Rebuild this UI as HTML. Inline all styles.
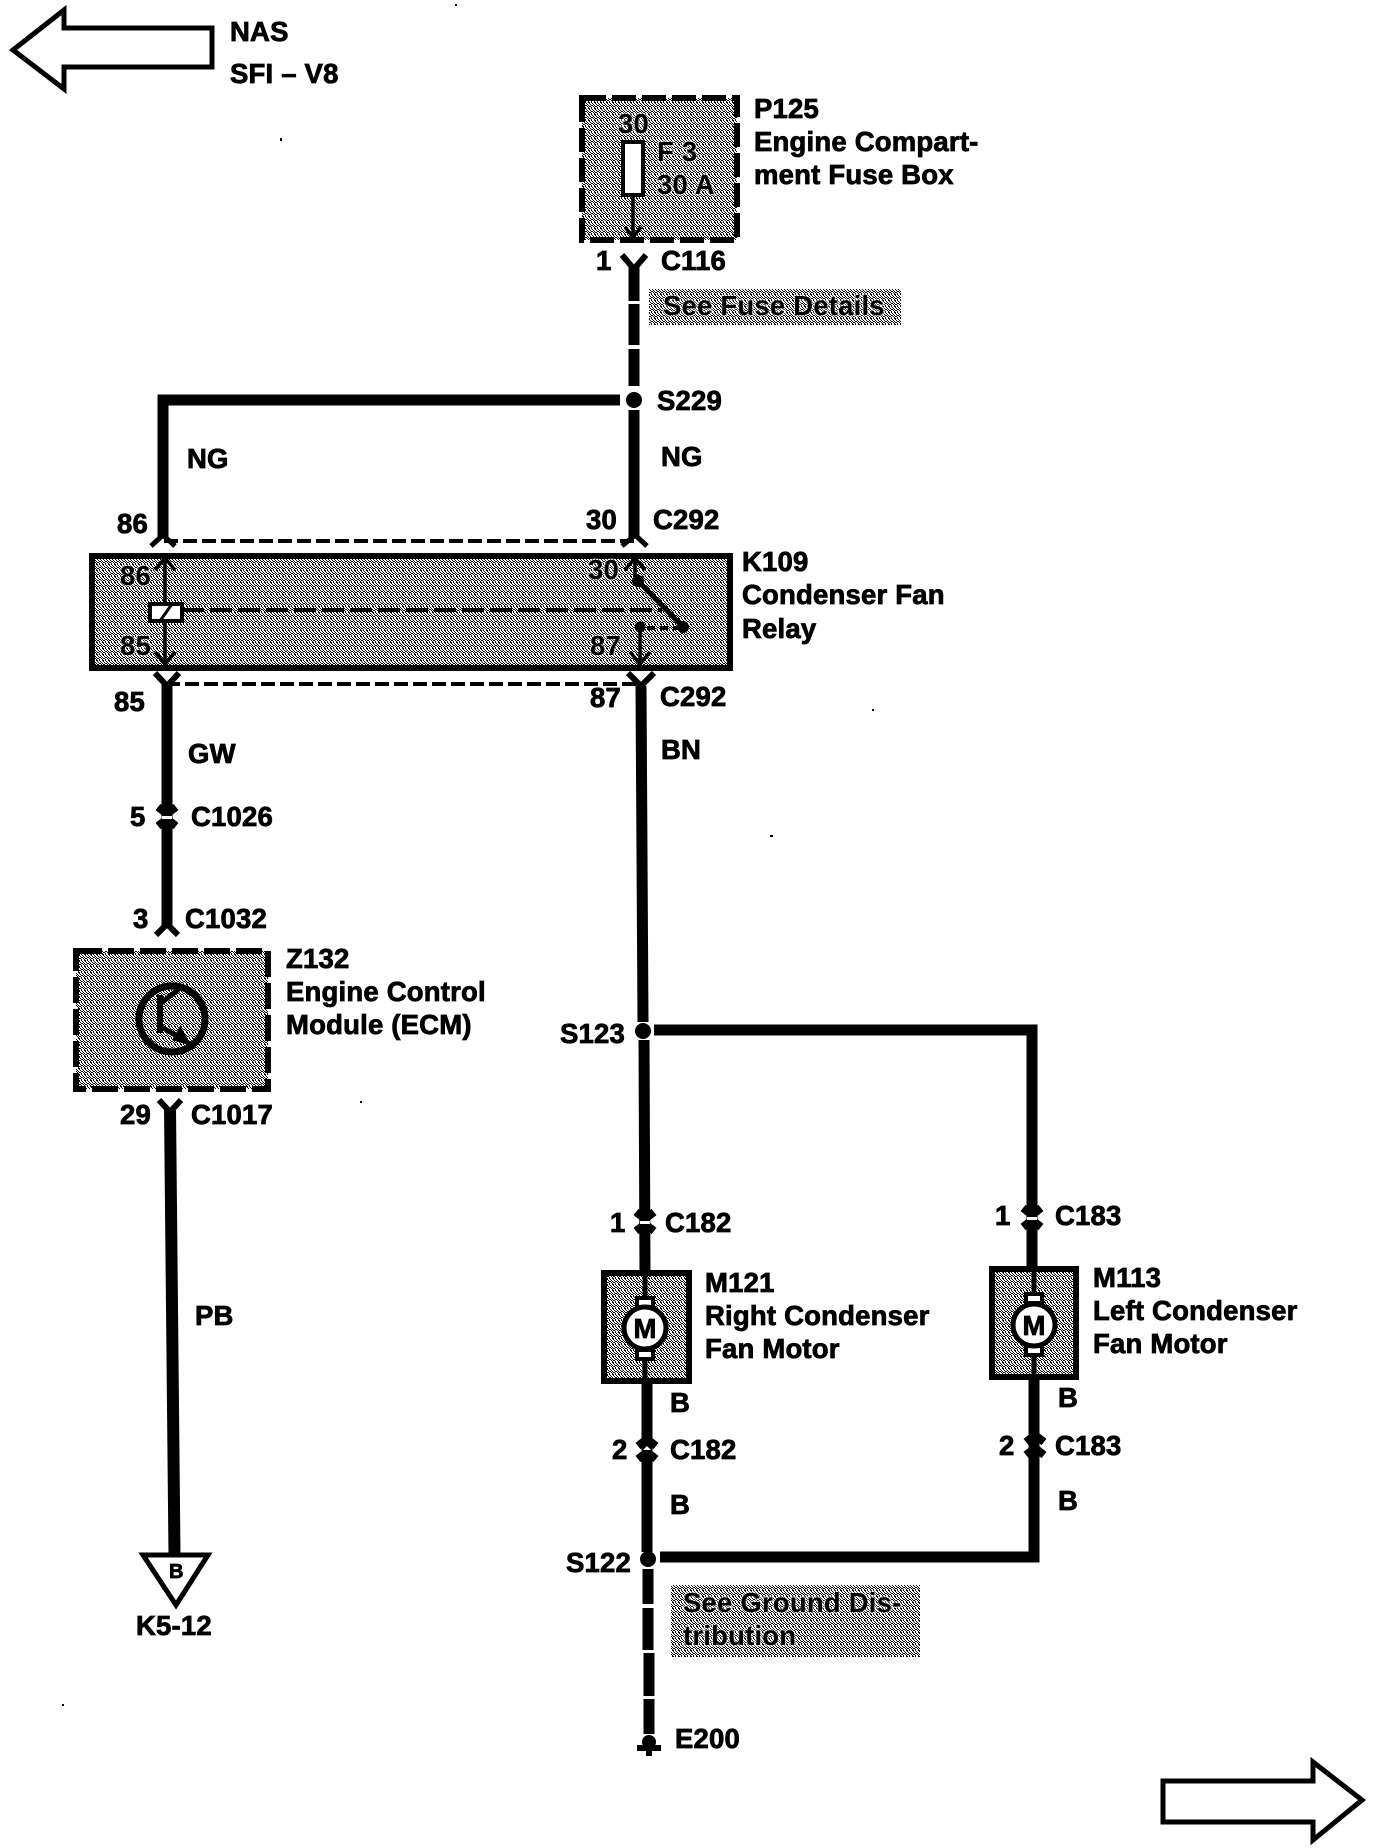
<!DOCTYPE html>
<html><head><meta charset="utf-8"><style>
html,body{margin:0;padding:0;background:#fff}
svg{display:block}
text{font-family:"Liberation Sans",Arial,sans-serif;font-weight:700;font-size:27.5px;letter-spacing:.2px;fill:#000;stroke:#000;stroke-width:.8px}
text.h{stroke:#fff;stroke-opacity:.4;stroke-width:3px;paint-order:stroke}
</style></head><body>
<svg width="1376" height="1848" viewBox="0 0 1376 1848" xmlns="http://www.w3.org/2000/svg">
<defs>
<pattern id="st" width="6" height="6" patternUnits="userSpaceOnUse">
<rect width="6" height="6" fill="#fff"/>
<rect x="0" y="0" width="2" height="1" fill="#000"/><rect x="3" y="0" width="1" height="1" fill="#000"/>
<rect x="1" y="1" width="1" height="1" fill="#000"/><rect x="4" y="1" width="1" height="1" fill="#000"/>
<rect x="2" y="2" width="1" height="1" fill="#000"/><rect x="5" y="2" width="1" height="1" fill="#000"/>
<rect x="0" y="3" width="1" height="1" fill="#000"/><rect x="3" y="3" width="2" height="1" fill="#000"/>
<rect x="1" y="4" width="2" height="1" fill="#000"/><rect x="5" y="4" width="1" height="1" fill="#000"/>
<rect x="0" y="5" width="1" height="1" fill="#000"/><rect x="3" y="5" width="1" height="1" fill="#000"/>
</pattern>
<g id="c1"><path d="M-9 -10L0 -3L9 -10M-9 9L0 2L9 9" fill="none" stroke="#000" stroke-width="8"/><rect x="-5" y="-1" width="10" height="3" fill="#fff"/></g>
<g id="c2"><path d="M-9 -3L0 -10L9 -3M-9 10L0 3L9 10" fill="none" stroke="#000" stroke-width="8"/><polygon points="-4,1 0,-3 4,1" fill="#fff"/></g>
</defs>

<!-- off-page arrows -->
<polygon points="13,50 64,10 64,28 212,28 212,67 64,67 64,89" fill="#fff" stroke="#000" stroke-width="5"/>
<polygon points="1163,1781 1313,1781 1313,1762 1362,1800 1313,1840 1313,1822 1163,1822" fill="#fff" stroke="#000" stroke-width="5"/>
<text x="230" y="41">NAS</text>
<text x="230" y="83">SFI – V8</text>

<!-- fuse box -->
<rect x="582" y="98" width="155" height="142" fill="url(#st)" stroke="#000" stroke-width="6" stroke-dasharray="24 6"/>
<text class="h" x="618" y="133">30</text>
<rect x="623" y="142" width="20" height="53" fill="#fff" stroke="#000" stroke-width="4"/>
<path d="M633 195V236M625 227L633 237L641 227" fill="none" stroke="#000" stroke-width="3.500"/>
<text class="h" x="657" y="161">F 3</text>
<text class="h" x="657" y="194">30 A</text>
<text x="754" y="118">P125</text>
<text x="754" y="151">Engine Compart-</text>
<text x="754" y="184">ment Fuse Box</text>

<!-- C116 and upper wire -->
<text x="596" y="270">1</text>
<text x="661" y="270">C116</text>
<path d="M622 255L634 269L646 255" fill="none" stroke="#000" stroke-width="6"/>
<path d="M634 265V301M634 304V345M634 349V386" stroke="#000" stroke-width="11" fill="none"/>
<rect x="649" y="289" width="252" height="36" fill="url(#st)"/>
<text class="h" x="663" y="315">See Fuse Details</text>

<!-- S229 -->
<circle cx="634" cy="400" r="8"/>
<path d="M620 400H163V538" fill="none" stroke="#000" stroke-width="11"/>
<path d="M634 410V538" stroke="#000" stroke-width="11"/>
<text x="657" y="410">S229</text>
<text x="187" y="468">NG</text>
<text x="661" y="466">NG</text>
<text x="117" y="533">86</text>
<text x="586" y="529">30</text>
<text x="653" y="529">C292</text>
<path d="M151 546L163 535L175 546M622 546L635 535L647 546" fill="none" stroke="#000" stroke-width="5"/>
<path d="M164 541H635" stroke="#000" stroke-width="4" stroke-dasharray="14 5"/>

<!-- relay -->
<rect x="92" y="556" width="638" height="112" fill="url(#st)" stroke="#000" stroke-width="6"/>
<path d="M165 560V662M155 570L165 558L175 570M155 652L165 664L175 652" fill="none" stroke="#000" stroke-width="3.500"/>
<rect x="150" y="604" width="32" height="17" fill="#fff" stroke="#000" stroke-width="4"/>
<path d="M160 621L172 604" stroke="#000" stroke-width="3"/>
<path d="M182 610H662" stroke="#000" stroke-width="4" stroke-dasharray="22 6"/>
<path d="M635 560V581M625 570L635 558L645 570" fill="none" stroke="#000" stroke-width="3.500"/>
<circle cx="638" cy="581" r="6"/>
<path d="M638 581L683 627" stroke="#000" stroke-width="5"/>
<circle cx="683" cy="627" r="6"/>
<circle cx="640" cy="627" r="5.500"/>
<path d="M647 628H679" stroke="#000" stroke-width="4" stroke-dasharray="8 5"/>
<path d="M640 627V663M630 652L640 664L650 652" fill="none" stroke="#000" stroke-width="3.500"/>
<text class="h" x="120" y="585">86</text>
<text class="h" x="120" y="655">85</text>
<text class="h" x="588" y="579">30</text>
<text class="h" x="590" y="655">87</text>
<text x="742" y="571">K109</text>
<text x="742" y="604">Condenser Fan</text>
<text x="742" y="638">Relay</text>

<!-- below relay -->
<path d="M166 684H638" stroke="#000" stroke-width="4" stroke-dasharray="14 5"/>
<path d="M155 673L167 686L179 673M628 673L641 686L654 673" fill="none" stroke="#000" stroke-width="6"/>
<path d="M167 682V927" stroke="#000" stroke-width="11"/>
<path d="M156 935L167 924L178 935" fill="none" stroke="#000" stroke-width="6"/>
<text x="114" y="711">85</text>
<text x="590" y="707">87</text>
<text x="660" y="706">C292</text>
<text x="188" y="763">GW</text>
<text x="661" y="759">BN</text>
<text x="130" y="826">5</text>
<text x="191" y="826">C1026</text>
<use href="#c1" x="167" y="817"/>
<text x="133" y="928">3</text>
<text x="185" y="928">C1032</text>

<!-- ECM -->
<rect x="76" y="951" width="192" height="138" fill="url(#st)" stroke="#000" stroke-width="6" stroke-dasharray="26 6"/>
<circle cx="172" cy="1019" r="33" fill="none" stroke="#000" stroke-width="7"/>
<path d="M160 995V1033" stroke="#000" stroke-width="6"/>
<path d="M160 1004L180 988M160 1026L190 1044" stroke="#000" stroke-width="5"/>
<polygon points="192,1046 172,1040 180,1026" fill="#000"/>
<text x="286" y="968">Z132</text>
<text x="286" y="1001">Engine Control</text>
<text x="286" y="1034">Module (ECM)</text>
<text x="120" y="1124">29</text>
<text x="191" y="1124">C1017</text>
<path d="M159 1100L170 1112L181 1100" fill="none" stroke="#000" stroke-width="6"/>
<path d="M170 1108L174.500 1556" stroke="#000" stroke-width="12"/>
<text x="195" y="1325">PB</text>
<polygon points="143,1555 208,1555 176,1605" fill="#fff" stroke="#000" stroke-width="5"/>
<text x="169" y="1578" style="font-size:20px">B</text>
<text x="136" y="1635">K5-12</text>

<!-- right main wire -->
<path d="M641 686L643 1022M644 1040L645 1272" stroke="#000" stroke-width="11" fill="none"/>
<circle cx="643" cy="1031" r="8"/>
<text x="560" y="1043">S123</text>
<path d="M654 1030H1032V1268" fill="none" stroke="#000" stroke-width="11"/>

<!-- M121 -->
<text x="610" y="1232">1</text>
<text x="665" y="1232">C182</text>
<use href="#c1" x="645" y="1222"/>
<rect x="604" y="1273" width="85" height="108" fill="url(#st)" stroke="#000" stroke-width="6"/>
<path d="M645 1273V1381" stroke="#000" stroke-width="5"/>
<rect x="637" y="1298" width="16" height="9" fill="#fff" stroke="#000" stroke-width="4"/>
<rect x="637" y="1350" width="16" height="9" fill="#fff" stroke="#000" stroke-width="4"/>
<circle cx="645" cy="1328" r="21" fill="#fff" stroke="#000" stroke-width="5"/>
<text x="645" y="1338" text-anchor="middle">M</text>
<text x="705" y="1292">M121</text>
<text x="705" y="1325">Right Condenser</text>
<text x="705" y="1358">Fan Motor</text>
<path d="M647 1381V1552" stroke="#000" stroke-width="11"/>
<text x="670" y="1412">B</text>
<text x="612" y="1459">2</text>
<text x="670" y="1459">C182</text>
<use href="#c2" x="647" y="1449"/>
<text x="670" y="1514">B</text>
<text x="566" y="1572">S122</text>
<circle cx="648" cy="1559" r="8"/>

<!-- M113 -->
<text x="995" y="1225">1</text>
<text x="1055" y="1225">C183</text>
<use href="#c1" x="1032" y="1218"/>
<rect x="992" y="1269" width="84" height="108" fill="url(#st)" stroke="#000" stroke-width="6"/>
<path d="M1034 1269V1377" stroke="#000" stroke-width="5"/>
<rect x="1026" y="1294" width="16" height="9" fill="#fff" stroke="#000" stroke-width="4"/>
<rect x="1026" y="1346" width="16" height="9" fill="#fff" stroke="#000" stroke-width="4"/>
<circle cx="1034" cy="1325" r="21" fill="#fff" stroke="#000" stroke-width="5"/>
<text x="1034" y="1335" text-anchor="middle">M</text>
<text x="1093" y="1287">M113</text>
<text x="1093" y="1320">Left Condenser</text>
<text x="1093" y="1353">Fan Motor</text>
<text x="1058" y="1407">B</text>
<text x="999" y="1455">2</text>
<text x="1055" y="1455">C183</text>
<use href="#c2" x="1035" y="1445"/>
<text x="1058" y="1510">B</text>
<path d="M660 1557H1034V1377" fill="none" stroke="#000" stroke-width="11"/>

<!-- ground branch -->
<path d="M648 1569V1604M648 1608V1650M649 1653V1696M649 1699V1734" stroke="#000" stroke-width="11" fill="none"/>
<rect x="671" y="1585" width="249" height="72" fill="url(#st)"/>
<text class="h" x="683" y="1612">See Ground Dis-</text>
<text class="h" x="683" y="1645">tribution</text>
<circle cx="649" cy="1742" r="7"/>
<path d="M637 1748H661M649 1736V1756" stroke="#000" stroke-width="6"/>
<text x="675" y="1748">E200</text>

<!-- specks -->
<g fill="#000"><rect x="280" y="138" width="2" height="3"/><rect x="455" y="4" width="2" height="2"/><rect x="360" y="1101" width="2" height="2"/><rect x="770" y="835" width="3" height="2"/><rect x="62" y="1704" width="2" height="2"/><rect x="872" y="709" width="2" height="2"/></g>
</svg>
</body></html>
